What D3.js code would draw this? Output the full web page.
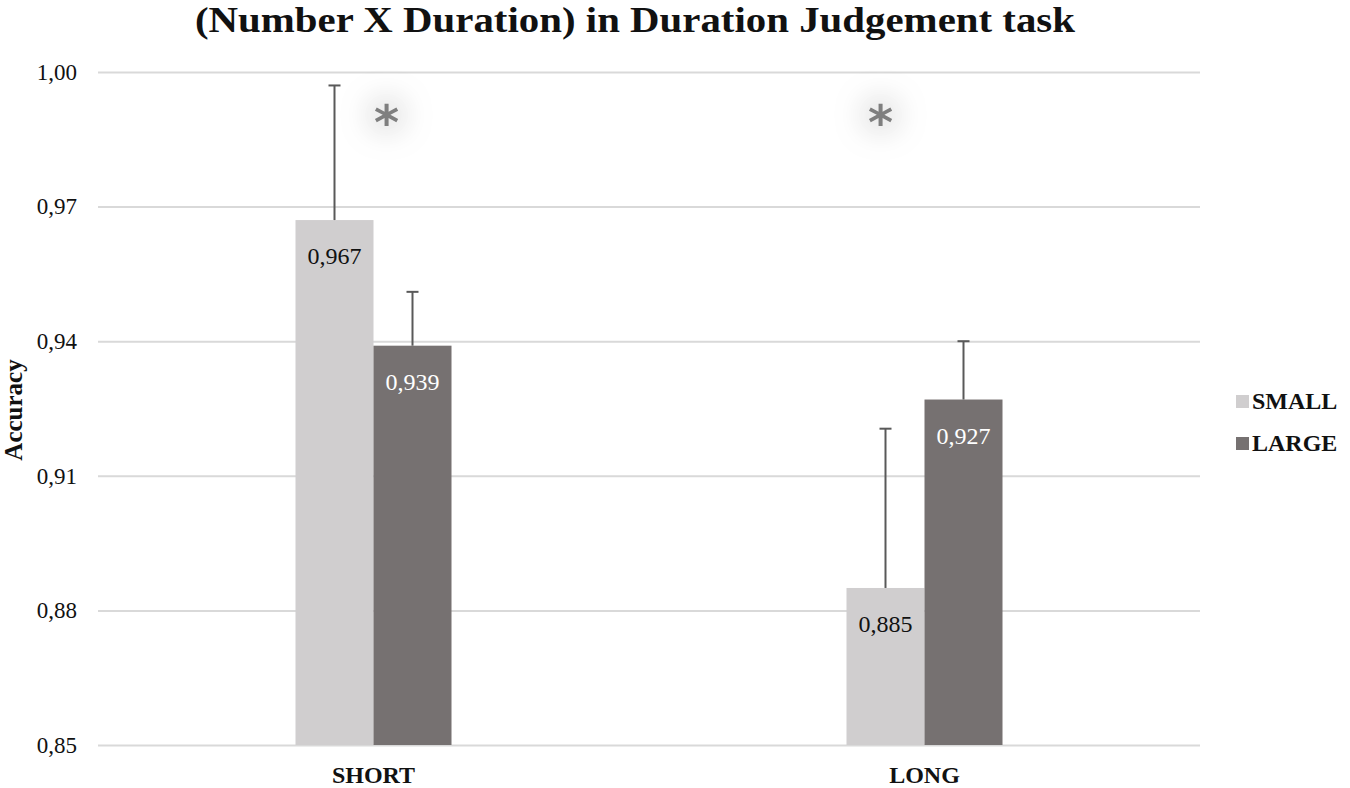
<!DOCTYPE html>
<html><head><meta charset="utf-8">
<script src="https://cdn.jsdelivr.net/npm/d3@7"></script>
<style>body{margin:0;background:#fff;} svg{display:block;}</style>
</head><body>
<script>
const categories = ["SHORT", "LONG"];
const seriesNames = ["SMALL", "LARGE"];
const smallValues = [0.967, 0.885];
const largeValues = [0.939, 0.927];
const smallErrors = [0.030, 0.0355];
const largeErrors = [0.012, 0.013];
const yTicks = [0.85, 0.88, 0.91, 0.94, 0.97, 1.00];
const significance = ["*", "*"];

const W = 1350, H = 788;
const margin = {left: 98, right: 150, top: 72, bottom: 43};
const svg = d3.select("body").append("svg").attr("width", W).attr("height", H);
const defs = svg.append("defs");
const f = defs.append("filter").attr("id","glow").attr("x","-300%").attr("y","-300%").attr("width","700%").attr("height","700%");
f.append("feMorphology").attr("in","SourceAlpha").attr("operator","dilate").attr("radius",8).attr("result","d");
f.append("feGaussianBlur").attr("in","d").attr("stdDeviation",14).attr("result","b");
f.append("feComponentTransfer").attr("in","b").attr("result","b2").append("feFuncA").attr("type","linear").attr("slope",0.3);
f.append("feFlood").attr("flood-color","#a6a6a6").attr("result","c");
f.append("feComposite").attr("in","c").attr("in2","b2").attr("operator","in").attr("result","s");
const fm = f.append("feMerge");
fm.append("feMergeNode").attr("in","s");
fm.append("feMergeNode").attr("in","SourceGraphic");

const x0 = d3.scaleBand().domain(categories).range([margin.left, 1200]);
const x1 = d3.scaleBand().domain(seriesNames).range([0, 156]);
const y = d3.scaleLinear().domain([0.85, 1.0]).range([745, 72]);
const colors = {SMALL: "#d0cecf", LARGE: "#767171"};
const labelColors = {SMALL: "#111", LARGE: "#fff"};
const serif = "Liberation Serif";

// gridlines via axis
const yAxis = d3.axisLeft(y).tickValues(yTicks).tickSize(-(1200 - margin.left)).tickPadding(21)
  .tickFormat(d => d3.format(".2f")(d).replace(".", ","));
const gy = svg.append("g").attr("transform", `translate(${margin.left},0)`).call(yAxis);
gy.select(".domain").remove();
gy.selectAll(".tick line").attr("stroke", "#d9d9d9").attr("stroke-width", 2);
gy.selectAll(".tick text").attr("font-family", serif).attr("font-size", 23).attr("fill", "#111");

const data = categories.map((c, i) => ({
  cat: c,
  bars: [
    {s: "SMALL", v: smallValues[i], e: smallErrors[i]},
    {s: "LARGE", v: largeValues[i], e: largeErrors[i]}
  ]
}));

const groups = svg.append("g").selectAll("g").data(data).join("g")
  .attr("transform", d => `translate(${x0(d.cat) + x0.bandwidth()/2 - 78},0)`);

groups.selectAll("rect").data(d => d.bars).join("rect")
  .attr("x", d => x1(d.s)).attr("width", x1.bandwidth())
  .attr("y", d => y(d.v)).attr("height", d => y(0.85) - y(d.v))
  .attr("fill", d => colors[d.s]);

// error bars
groups.selectAll("g.err").data(d => d.bars).join("g").attr("class","err").each(function(d){
  const g = d3.select(this);
  const cx = x1(d.s) + x1.bandwidth()/2;
  g.append("line").attr("x1", cx).attr("x2", cx).attr("y1", y(d.v)).attr("y2", y(d.v + d.e))
    .attr("stroke", "#595959").attr("stroke-width", 2);
  g.append("line").attr("x1", cx - 6).attr("x2", cx + 6).attr("y1", y(d.v + d.e)).attr("y2", y(d.v + d.e))
    .attr("stroke", "#595959").attr("stroke-width", 2);
});

// value labels
groups.selectAll("text.val").data(d => d.bars).join("text").attr("class","val")
  .attr("x", d => x1(d.s) + x1.bandwidth()/2).attr("y", d => y(d.v) + 44)
  .attr("text-anchor", "middle").attr("font-family", serif).attr("font-size", 24)
  .attr("fill", d => labelColors[d.s])
  .text(d => d3.format(".3f")(d.v).replace(".", ","));

// significance
svg.append("g").selectAll("text").data(categories).join("text")
  .attr("x", (d) => x0(d) + x0.bandwidth()/2 + (d === "SHORT" ? 13 : -44))
  .attr("y", 139).attr("text-anchor", "middle")
  .attr("font-family", "DejaVu Sans").attr("font-weight", "bold").attr("font-size", 48)
  .attr("fill", "#7f7f7f").attr("filter", "url(#glow)")
  .text((d, i) => significance[i]);

// x labels
svg.append("g").selectAll("text").data(categories).join("text")
  .attr("x", d => x0(d) + x0.bandwidth()/2).attr("y", 783)
  .attr("text-anchor", "middle").attr("font-family", serif).attr("font-weight", "bold").attr("font-size", 24)
  .attr("fill", "#111").text(d => d);

// title
svg.append("text").attr("x", 635).attr("y", 32).attr("text-anchor", "middle")
  .attr("font-family", serif).attr("font-weight", "bold").attr("font-size", 35).attr("fill", "#111")
  .attr("textLength", 880).attr("lengthAdjust", "spacingAndGlyphs")
  .text("(Number X Duration) in Duration Judgement task");

// y title
svg.append("text").attr("transform", "translate(22,410) rotate(-90)").attr("text-anchor", "middle")
  .attr("font-family", serif).attr("font-weight", "bold").attr("font-size", 25).attr("fill", "#111")
  .text("Accuracy");

// legend
const leg = svg.append("g").selectAll("g").data(seriesNames).join("g")
  .attr("transform", (d, i) => `translate(1236,${401 + i * 42})`);
leg.append("rect").attr("x", 0).attr("y", -6).attr("width", 13).attr("height", 13).attr("fill", d => colors[d]);
leg.append("text").attr("x", 16).attr("y", 8).attr("font-family", serif).attr("font-weight", "bold")
  .attr("font-size", 24).attr("fill", "#111").text(d => d);
</script>
</body></html>
